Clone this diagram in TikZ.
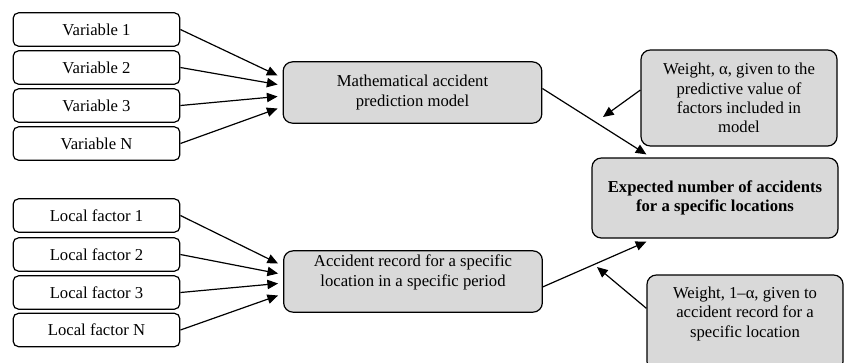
\documentclass[tikz,border=0pt]{standalone}
\usepackage{fontspec}
\setmainfont{Liberation Serif}
\usetikzlibrary{arrows.meta,calc}
\definecolor{boxgray}{RGB}{217,217,217}

\begin{document}
\begin{tikzpicture}[x=0.75pt,y=-0.75pt,
  box/.style={draw,line width=0.9pt,rounded corners=4pt,align=center,inner sep=2pt,
    font=\fontsize{12.5}{14.5}\selectfont},
  inbox/.style={box,fill=white,minimum width=125pt,minimum height=25pt},
  graybox/.style={box,fill=boxgray,rounded corners=7pt},
  arr/.style={-{Triangle[length=8pt,width=7pt]},line width=0.9pt}]
  \useasboundingbox (0,0) rectangle (846,362);
  % input boxes
  \node[inbox] (v1) at (96.5,29.5) {Variable 1};
  \node[inbox] (v2) at (96.5,67.5) {Variable 2};
  \node[inbox] (v3) at (96.5,105.5) {Variable 3};
  \node[inbox] (vN) at (96.5,143.5) {Variable N};
  \node[inbox] (lf1) at (96.5,215.5) {Local factor 1};
  \node[inbox] (lf2) at (96.5,254.5) {Local factor 2};
  \node[inbox] (lf3) at (96.5,292.5) {Local factor 3};
  \node[inbox] (lfN) at (96.5,330) {Local factor N};
  % grey boxes
  \node[graybox,minimum width=194pt,minimum height=46pt] (math) at (412.5,92.5)
    {Mathematical accident\\prediction model};
  \node[graybox,minimum width=194pt,minimum height=46pt] (acc) at (413,281.5)
    {Accident record for a specific\\location in a specific period\\[2pt]\mbox{}};
  \node[graybox,minimum width=147pt,minimum height=72pt] (wa) at (739,98)
    {Weight, α, given to the\\predictive value of\\factors included in\\model};
  \node[graybox,minimum width=184.5pt,minimum height=60pt,font=\fontsize{12.5}{14.5}\selectfont\bfseries]
    (exp) at (715,198) {Expected number of accidents\\for a specific locations};
  \node[graybox,minimum width=147pt,minimum height=72pt] (w1) at (745,323)
    {Weight, 1–α, given to\\accident record for a\\specific location\\[2pt]\mbox{}};
  \coordinate (wat) at (603,117);
  \coordinate (w1t) at (597,267);
  % connectors
  \foreach \i/\dy in {1/-17,2/-8,3/4,N/16}
    \draw[arr] (v\i.east) -- ($(math.west)+(-5,\dy)$);
  \foreach \i/\dy in {1/-18,2/-8,3/2,N/14}
    \draw[arr] (lf\i.east) -- ($(acc.west)+(-5,\dy)$);
  \draw[arr] ([yshift=3pt]math.east) -- ($(exp.north west)+(55,-3)$);
  \draw[arr] ([yshift=-4pt]acc.east) -- ($(exp.south west)+(55,3)$);
  \draw[arr] ([yshift=6pt]wa.west) -- (wat);
  \draw[arr] ([yshift=11pt]w1.west) -- (w1t);
\end{tikzpicture}
\end{document}
